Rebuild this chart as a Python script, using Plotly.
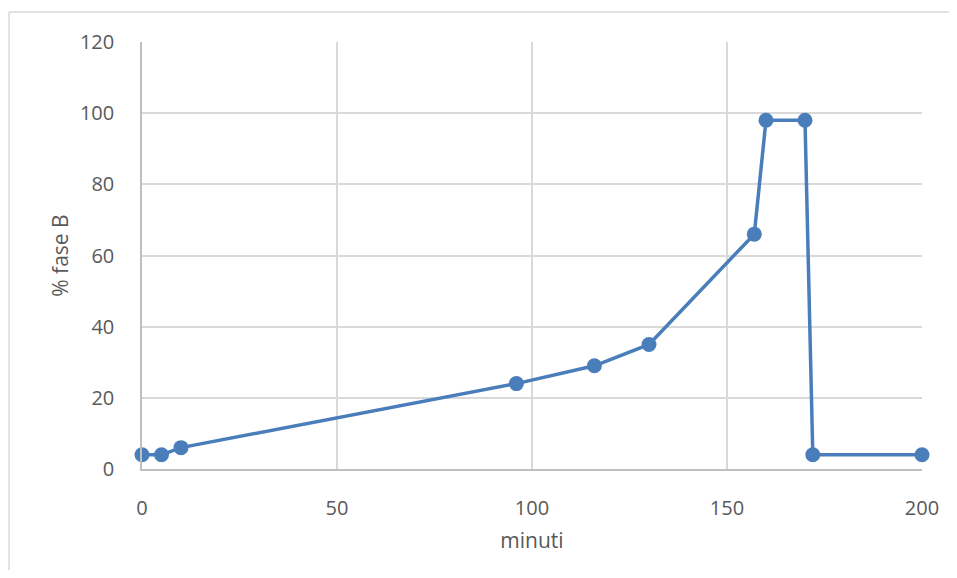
import plotly.graph_objects as go

minuti = [0, 5, 10, 96, 116, 130, 157, 160, 170, 172, 200]
fase_b = [4, 4, 6, 24, 29, 35, 66, 98, 98, 4, 4]

x_ticks = [0, 50, 100, 150, 200]
y_ticks = [0, 20, 40, 60, 80, 100, 120]

color = "#4a7ebb"
grid = "#d9d9d9"
font = dict(family="Open Sans, Liberation Sans, Arial, sans-serif", size=20, color="#595959")
title_font = dict(family="Open Sans, Liberation Sans, Arial, sans-serif", size=21, color="#595959")

fig = go.Figure()
fig.add_trace(go.Scatter(
    x=minuti, y=fase_b, mode="lines+markers",
    line=dict(color=color, width=3.5),
    marker=dict(color=color, size=15),
    cliponaxis=False, showlegend=False,
))

fig.update_layout(
    width=941, height=562,
    margin=dict(l=134, r=27, t=34, b=101, autoexpand=False),
    paper_bgcolor="white", plot_bgcolor="white",
    font=font,
    xaxis=dict(
        range=[0, 200], tickvals=x_ticks, ticktext=[str(v) for v in x_ticks],
        showgrid=True, gridcolor=grid, gridwidth=1.5, zeroline=False,
        showline=True, linecolor="#bfbfbf", linewidth=1.5,
        ticks="", ticklabelstandoff=20, tickfont=font,
        title=dict(text="minuti", standoff=14, font=title_font),
    ),
    yaxis=dict(
        range=[0, 120], tickvals=y_ticks, ticktext=[str(v) for v in y_ticks],
        showgrid=True, gridcolor=grid, gridwidth=1.5, zeroline=False,
        showline=True, linecolor="#bfbfbf", linewidth=1.5,
        ticks="", ticklabelstandoff=22, tickfont=font,
        title=dict(text="% fase B", standoff=6, font=title_font),
    ),
)

# outer chart border (partially visible in the reference)
fig.add_shape(type="line", xref="paper", yref="paper",
              x0=-0.1705, y0=-0.5, x1=-0.1705, y1=1.0703,
              line=dict(color=grid, width=1.5))
fig.add_shape(type="line", xref="paper", yref="paper",
              x0=-0.1705, y0=1.0703, x1=1.2, y1=1.0703,
              line=dict(color=grid, width=1.5))

fig.write_html("out.html")
